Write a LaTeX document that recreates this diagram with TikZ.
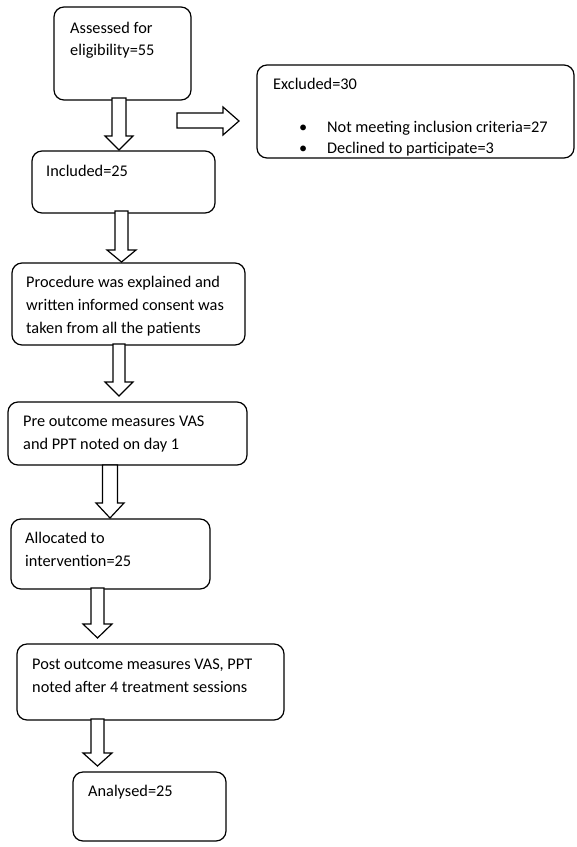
\documentclass[tikz,border=0pt]{standalone}
\usepackage{fontspec}
\setmainfont{Carlito}
\newcommand\blkdown[6]{%
  \draw[blk] ({#1-#5},#2) -- ({#1-#5},#3) -- ({#1-#6},#3) -- (#1,#4) -- ({#1+#6},#3) -- ({#1+#5},#3) -- ({#1+#5},#2) -- cycle;}
\tikzset{
  box/.style={draw, line width=1.2pt, rounded corners=10pt, rectangle, anchor=north west, inner sep=0pt, outer sep=0pt},
  txt/.style={anchor=base west, inner sep=0pt, font=\fontsize{16.3}{23}\selectfont},
  blk/.style={draw, line width=1.2pt, fill=white, line join=miter},
}
\begin{document}
\begin{tikzpicture}[x=1pt,y=-1pt]
\useasboundingbox (0,0) rectangle (577,847);
% boxes
\node[box, minimum width=137pt, minimum height=93pt] (b1) at (54,7) {};
\node[box, minimum width=183pt, minimum height=62pt] (b2) at (32,151) {};
\node[box, minimum width=317pt, minimum height=93pt] (bx) at (257,65) {};
\node[box, minimum width=233pt, minimum height=82pt] (b3) at (12,263) {};
\node[box, minimum width=239pt, minimum height=63pt] (b4) at (8,402) {};
\node[box, minimum width=199pt, minimum height=70pt] (b5) at (11,519) {};
\node[box, minimum width=267pt, minimum height=76pt] (b6) at (17,644) {};
\node[box, minimum width=153pt, minimum height=69pt] (b7) at (73,772) {};
% texts
\node[txt] (t1a) at (70,33) {Assessed for};
\node[txt] (t1b) at (70,55) {eligibility=55};
\node[txt] (t2) at (46,176) {Included=25};
\node[txt] (tx) at (273,89) {Excluded=30};
\node[txt] (bu1) at (299,132) {•};
\node[txt] (bu2) at (299,153) {•};
\node[txt] (tx1) at (327,132) {Not meeting inclusion criteria=27};
\node[txt] (tx2) at (327,153) {Declined to participate=3};
\node[txt] (t3a) at (26,287) {Procedure was explained and};
\node[txt] (t3b) at (26,310) {written informed consent was};
\node[txt] (t3c) at (26,333) {taken from all the patients};
\node[txt] (t4a) at (23,426) {Pre outcome measures VAS};
\node[txt] (t4b) at (23,449) {and PPT noted on day 1};
\node[txt] (t5a) at (25,543) {Allocated to};
\node[txt] (t5b) at (25,566) {intervention=25};
\node[txt] (t6a) at (32,669) {Post outcome measures VAS, PPT};
\node[txt] (t6b) at (32,692) {noted after 4 treatment sessions};
\node[txt] (t7) at (88,796) {Analysed=25};
% block arrows
\blkdown{119}{98}{136}{150}{7}{14}
\blkdown{121.5}{211}{250}{262}{6.5}{14.5}
\blkdown{119}{344}{382}{396}{6}{14}
\blkdown{110}{465}{503}{518}{7.5}{14}
\blkdown{97.5}{588}{624}{638}{6.5}{14.5}
\blkdown{97.5}{719}{753}{766}{6.5}{14.5}
\draw[blk] (177,113) -- (223,113) -- (223,107) -- (239,121) -- (223,135) -- (223,128) -- (177,128) -- cycle;
\end{tikzpicture}
\end{document}
